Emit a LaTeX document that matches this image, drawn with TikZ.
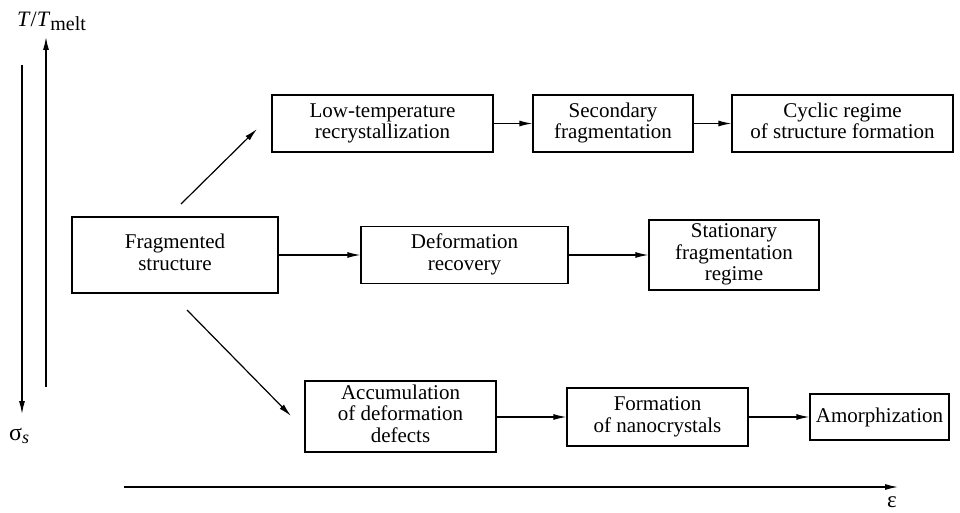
\documentclass[tikz,border=0pt]{standalone}
\usepackage{fontspec}
\setmainfont{Liberation Serif}
\newfontfamily\tnr{Liberation Serif}
\usetikzlibrary{arrows.meta}
\newcommand{\lns}[1]{\begin{tabular}{@{}c@{}}#1\end{tabular}}
\begin{document}
\begin{tikzpicture}[x=1pt,y=-1pt,
  box/.style={draw,line width=1.2pt,rectangle,inner sep=0pt,
    font=\tnr\fontsize{21}{21.5}\selectfont},
  arr/.style={line width=1.2pt,-{Latex[length=13pt,width=6pt]}},
  ax/.style={line width=1.3pt}]
\useasboundingbox (0,0) rectangle (960,513);
\node[box,minimum width=206pt,minimum height=76pt] (frag) at (175,255) {\lns{Fragmented\\structure}};
\node[box,minimum width=221pt,minimum height=57pt] (low) at (382.5,123.5) {\lns{Low-temperature\\recrystallization}};
\node[box,minimum width=160pt,minimum height=57pt] (sec) at (613,123.5) {\lns{Secondary\\fragmentation}};
\node[box,minimum width=221pt,minimum height=57pt] (cyc) at (842.5,123.5) {\lns{Cyclic regime\\of structure formation}};
\node[box,minimum width=207pt,minimum height=57pt] (rec) at (464.5,255) {\lns{Deformation\\recovery}};
\node[box,minimum width=170pt,minimum height=70pt] (sta) at (734,255) {\lns{Stationary\\fragmentation\\regime}};
\node[box,minimum width=191pt,minimum height=71pt] (acc) at (400.5,416.5) {\lns{Accumulation\\of deformation\\defects}};
\node[box,minimum width=181pt,minimum height=58pt] (form) at (657.5,417) {\lns{Formation\\of nanocrystals}};
\node[box,minimum width=139pt,minimum height=46pt] (amo) at (879.5,417) {Amorphization};
\draw[arr] (low.east) -- (sec.west);
\draw[arr] (sec.east) -- (cyc.west);
\draw[arr] (frag.east) -- (rec.west);
\draw[arr] (rec.east) -- (sta.west);
\draw[arr] (acc.east |- form.west) -- (form.west);
\draw[arr] (form.east) -- (amo.west);
\coordinate (u0) at (181,204);
\coordinate (u1) at (257,129);
\coordinate (d0) at (187,310);
\coordinate (d1) at (291,416);
\draw[arr] (u0) -- (u1);
\draw[arr] (d0) -- (d1);
% axes
\coordinate (s0) at (22,65);
\coordinate (s1) at (22,414);
\coordinate (t0) at (46,387);
\coordinate (t1) at (46,37);
\coordinate (e0) at (124,487);
\coordinate (e1) at (898,487);
\draw[ax,-{Latex[length=13pt,width=6pt]}] (s0) -- (s1);
\draw[ax,-{Latex[length=13pt,width=6pt]}] (t0) -- (t1);
\draw[ax,-{Latex[length=13pt,width=6pt]}] (e0) -- (e1);
\node[font=\tnr\fontsize{22}{22}\selectfont,anchor=base west,inner sep=0pt] (tl) at (17,27) {\textit{T}/\textit{T}\raisebox{-0.35ex}{\fontsize{20}{20}\selectfont melt}};
\node[font=\tnr\fontsize{24}{24}\selectfont,anchor=base west,inner sep=0pt] (sl) at (9,440) {σ\raisebox{-0.3ex}{\fontsize{18}{18}\selectfont\textit{s}}};
\node[font=\tnr\fontsize{23}{23}\selectfont,anchor=base,inner sep=0pt] (el) at (892,507) {ε};
\end{tikzpicture}
\end{document}
